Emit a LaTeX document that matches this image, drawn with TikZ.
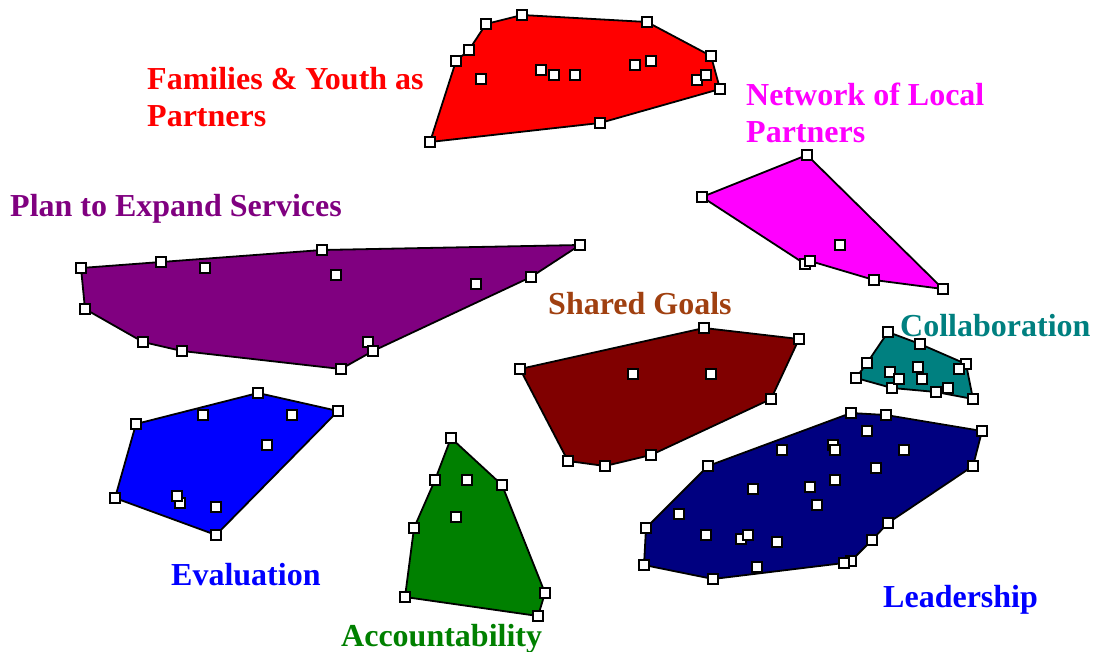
\documentclass[tikz,border=0pt]{standalone}
\usepackage{fontspec}
\setmainfont{Liberation Serif}
\definecolor{cRed}{RGB}{255,0,0}
\definecolor{cMag}{RGB}{255,0,255}
\definecolor{cPur}{RGB}{128,0,128}
\definecolor{cMar}{RGB}{128,0,0}
\definecolor{cSie}{RGB}{160,64,16}
\definecolor{cTeal}{RGB}{0,128,128}
\definecolor{cBlue}{RGB}{0,0,255}
\definecolor{cGreen}{RGB}{0,128,0}
\definecolor{cNavy}{RGB}{0,0,128}
\begin{document}
\begin{tikzpicture}[x=1pt,y=-1pt,
  hull/.style={draw=black,line width=1.8pt,line join=round},
  pt/.style={rectangle,draw=black,fill=white,line width=1.6pt,minimum size=10pt,inner sep=0pt},
  lbl/.style={anchor=base west,inner sep=0pt,align=left,font=\fontsize{32}{37}\selectfont\bfseries}]
\useasboundingbox (0,0) rectangle (1094,652);

% --- cluster: Families & Youth as Partners
\foreach \n/\x/\y in {r1/430/142,r2/456/61,r3/469/50,r4/486/24,r5/522/15,r6/647/22,r7/711/56,r8/720/89,r9/600/123,
  ri1/481/79,ri2/541/70,ri3/554/75,ri4/575/75,ri5/635/65,ri6/651/61,ri7/697/80,ri8/706/75}
  \coordinate (\n) at (\x,\y);
\filldraw[hull,fill=cRed] (r1)--(r2)--(r3)--(r4)--(r5)--(r6)--(r7)--(r8)--(r9)--cycle;
\foreach \n in {r1,r2,r3,r4,r5,r6,r7,r8,r9,ri1,ri2,ri3,ri4,ri5,ri6,ri7,ri8}
  \node[pt] (\n-m) at (\n) {};

% --- cluster: Network of Local Partners
\foreach \n/\x/\y in {m1/702/197,m2/807/155,m3/943/289,m4/874/280,m5/810/261,m6/805/264,mi1/840/245}
  \coordinate (\n) at (\x,\y);
\filldraw[hull,fill=cMag] (m1)--(m2)--(m3)--(m4)--(m5)--(m6)--cycle;
\foreach \n in {m6,m1,m2,m3,m4,m5,mi1}
  \node[pt] (\n-m) at (\n) {};

% --- cluster: Plan to Expand Services
\foreach \n/\x/\y in {p1/81/268,p2/161/262,p3/322/250,p4/580/245,p5/531/277,p6/373/351,p7/341/369,p8/182/351,p9/143/342,p10/85/309,
  pi1/205/268,pi2/336/275,pi3/476/284,pi4/368/342}
  \coordinate (\n) at (\x,\y);
\filldraw[hull,fill=cPur] (p1)--(p2)--(p3)--(p4)--(p5)--(p6)--(p7)--(p8)--(p9)--(p10)--cycle;
\foreach \n in {pi4,p1,p2,p3,p4,p5,p6,p7,p8,p9,p10,pi1,pi2,pi3}
  \node[pt] (\n-m) at (\n) {};

% --- cluster: Evaluation
\foreach \n/\x/\y in {e1/136/424,e2/258/393,e3/338/411,e4/216/535,e5/115/498,
  ei1/203/415,ei2/292/415,ei3/267/445,ei4/177/496,ei5/180/503,ei6/216/507}
  \coordinate (\n) at (\x,\y);
\filldraw[hull,fill=cBlue] (e1)--(e2)--(e3)--(e4)--(e5)--cycle;
\foreach \n in {e1,e2,e3,e4,e5,ei1,ei2,ei3,ei5,ei4,ei6}
  \node[pt] (\n-m) at (\n) {};

% --- cluster: Accountability
\foreach \n/\x/\y in {a1/451/438,a2/502/485,a3/545/593,a4/538/616,a5/405/597,a6/414/528,a7/435/480,
  ai1/467/480,ai2/456/517}
  \coordinate (\n) at (\x,\y);
\filldraw[hull,fill=cGreen] (a1)--(a2)--(a3)--(a4)--(a5)--(a6)--(a7)--cycle;
\foreach \n in {a1,a2,a3,a4,a5,a6,a7,ai1,ai2}
  \node[pt] (\n-m) at (\n) {};

% --- cluster: Shared Goals
\foreach \n/\x/\y in {s1/520/369,s2/704/328,s3/799/339,s4/771/399,s5/651/455,s6/605/466,s7/568/461,
  si1/633/374,si2/711/374}
  \coordinate (\n) at (\x,\y);
\filldraw[hull,fill=cMar] (s1)--(s2)--(s3)--(s4)--(s5)--(s6)--(s7)--cycle;
\foreach \n in {s1,s2,s3,s4,s5,s6,s7,si1,si2}
  \node[pt] (\n-m) at (\n) {};

% --- cluster: Collaboration
\foreach \n/\x/\y in {c1/856/378,c2/867/363,c3/888/332,c4/920/344,c5/966/364,c6/973/399,c7/936/392,c8/892/388,
  ci1/890/372,ci2/899/379,ci3/918/367,ci4/922/379,ci5/948/388,ci6/959/369}
  \coordinate (\n) at (\x,\y);
\filldraw[hull,fill=cTeal] (c1)--(c2)--(c3)--(c4)--(c5)--(c6)--(c7)--(c8)--cycle;
\foreach \n in {c1,c2,c3,c4,c5,c6,c7,c8,ci1,ci2,ci3,ci4,ci5,ci6}
  \node[pt] (\n-m) at (\n) {};

% --- cluster: Leadership
\foreach \n/\x/\y in {l1/851/413,l2/886/415,l3/982/431,l4/973/466,l5/888/523,l6/872/540,l7/851/561,l8/844/563,
  l9/713/579,l10/644/565,l11/646/528,l12/708/466,
  li1/867/431,li2/782/450,li3/833/445,li4/835/450,li5/904/450,li6/876/468,li7/835/480,li8/810/487,
  li9/753/489,li10/817/505,li11/679/514,li12/706/535,li13/741/539,li14/748/535,li15/777/542,li16/757/567}
  \coordinate (\n) at (\x,\y);
\filldraw[hull,fill=cNavy] (l1)--(l2)--(l3)--(l4)--(l5)--(l6)--(l7)--(l8)--(l9)--(l10)--(l11)--(l12)--cycle;
\foreach \n in {l1,l2,l3,l4,l5,l6,l7,l8,l9,l10,l11,l12,li1,li2,li3,li4,li5,li6,li7,li8,li9,li10,li11,li12,li13,li14,li15,li16}
  \node[pt] (\n-m) at (\n) {};

% --- labels (two-line labels are anchored on their last baseline)
\node[lbl,text=cRed]   (tFam)  at (147,127) {Families \& Youth as\\Partners};
\node[lbl,text=cMag]   (tNet)  at (746,143) {Network of Local\\Partners};
\node[lbl,text=cPur]   (tPlan) at (10,217)  {Plan to Expand Services};
\node[lbl,text=cSie]   (tGoal) at (548,314) {Shared Goals};
\node[lbl,text=cTeal]  (tCol)  at (900,336) {Collaboration};
\node[lbl,text=cBlue]  (tEval) at (171,585) {Evaluation};
\node[lbl,text=cGreen] (tAcc)  at (341,646) {Accountability};
\node[lbl,text=cBlue]  (tLead) at (883,607) {Leadership};
\end{tikzpicture}
\end{document}
